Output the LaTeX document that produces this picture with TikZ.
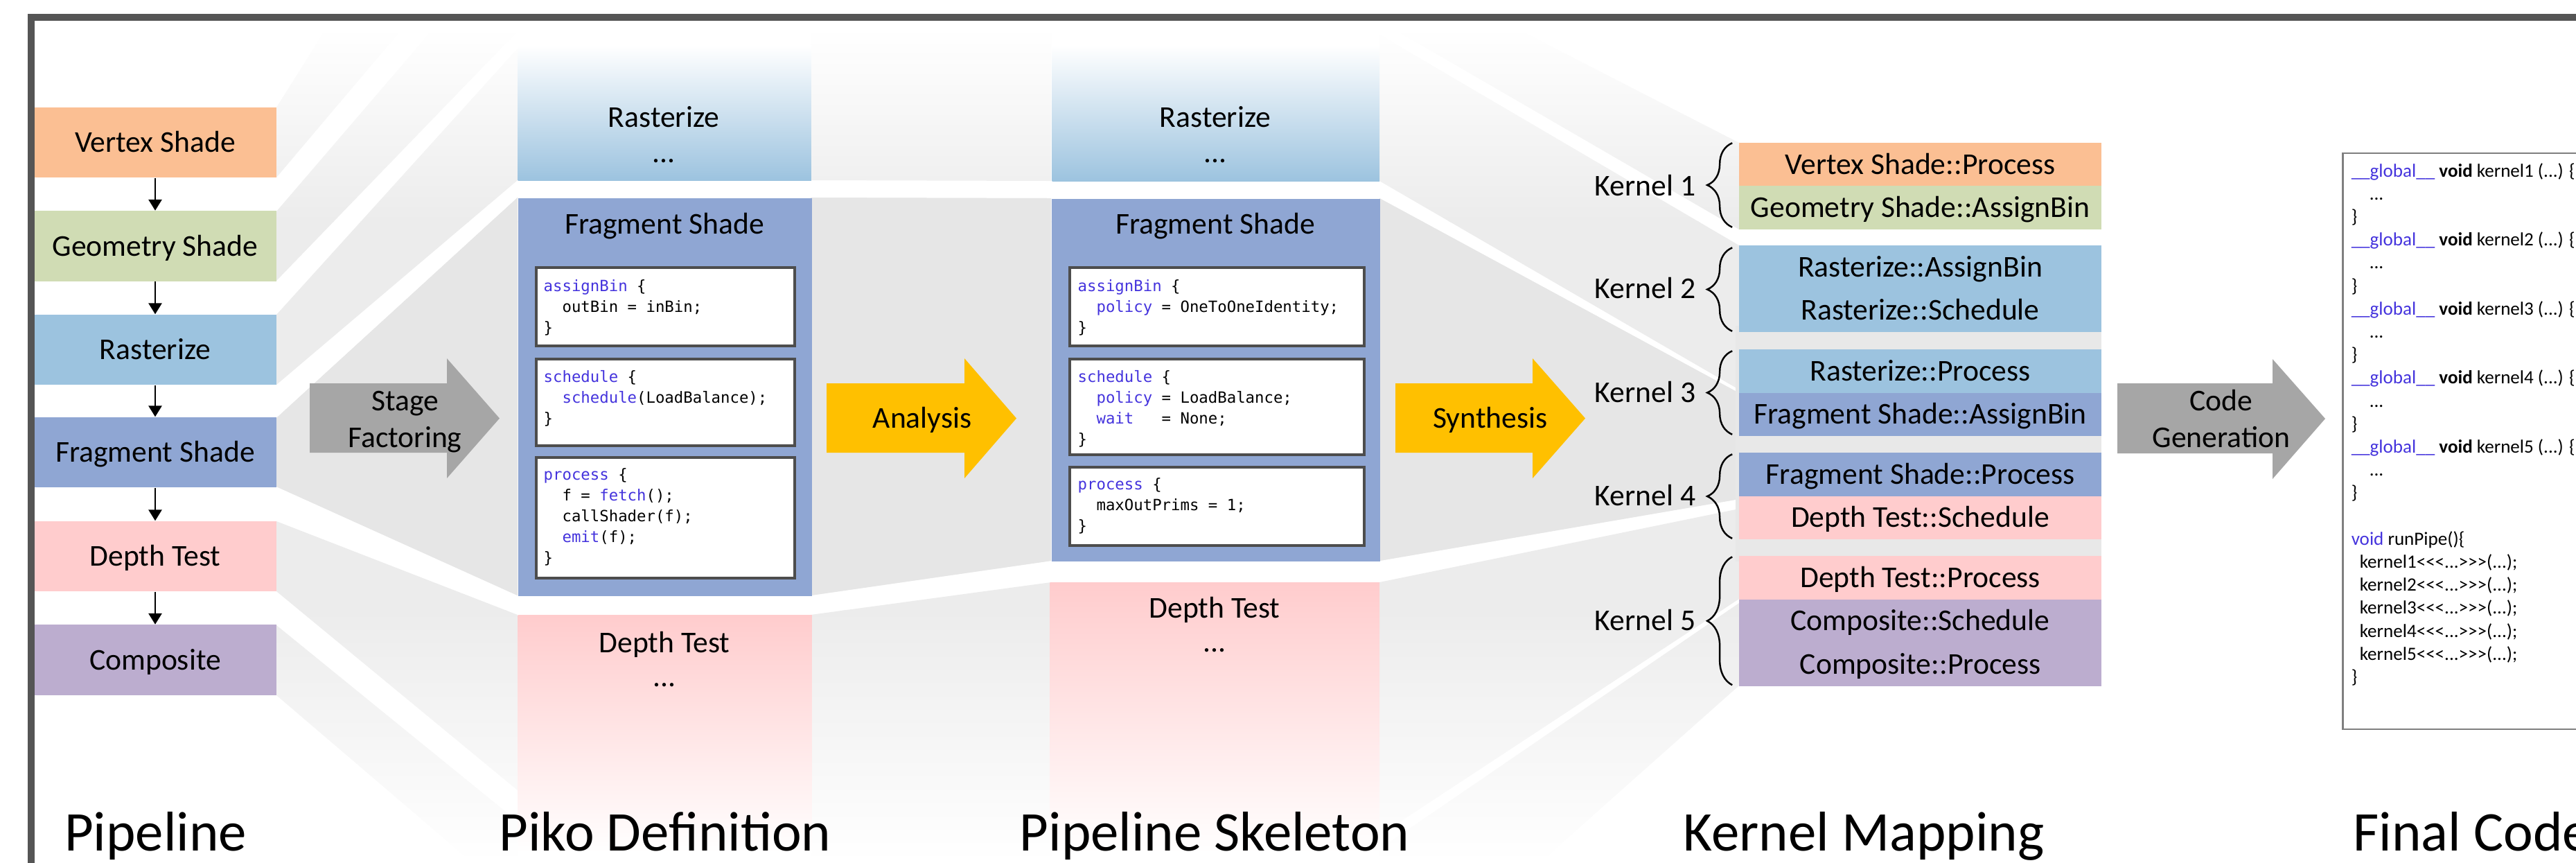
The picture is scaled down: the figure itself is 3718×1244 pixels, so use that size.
\documentclass[tikz,border=0pt]{standalone}
\usepackage{fontspec}
\setmainfont{Carlito}
\newfontfamily\codefont{DejaVu Sans Mono}
\usetikzlibrary{arrows.meta,decorations.pathreplacing}

\definecolor{vtxc}{HTML}{FBBF93}
\definecolor{geoc}{HTML}{D0DCB4}
\definecolor{rasc}{HTML}{9CC3DF}
\definecolor{frgc}{HTML}{8FA6D3}
\definecolor{dptc}{HTML}{FFCCCD}
\definecolor{cmpc}{HTML}{BCADCF}
\definecolor{arrgray}{HTML}{A6A6A6}
\definecolor{arrgold}{HTML}{FFC000}
\definecolor{kwc}{HTML}{4433DD}
\definecolor{framec}{HTML}{555555}
\definecolor{codeframe}{HTML}{4D4D4D}
\definecolor{fcframe}{HTML}{7F7F7F}
\definecolor{bandc}{HTML}{ECECEC}
\definecolor{bandd}{HTML}{E6E6E6}
\definecolor{kgap}{HTML}{E8E8E8}

\newcommand\pkw[1]{\textcolor{kwc}{#1}}
\newcommand\launch{<{}<{}<...>{}>{}>}

\begin{document}
\begin{tikzpicture}[x=0.01cm, y=-0.01cm,
  lbl/.style={font=\fontsize{12.4}{15}\selectfont, inner sep=0pt, text height=11pt, text depth=3pt},
  stagebox/.style={lbl, minimum width=3.5cm, minimum height=1.01cm},
  kbox/.style={lbl, minimum width=5.23cm, minimum height=0.625cm},
  panel/.style={inner sep=0pt, anchor=north west},
  codebox/.style={draw=codeframe, line width=1pt, fill=white, inner sep=0pt, anchor=north west},
  code/.style={font=\codefont\fontsize{6.35}{8.5}\selectfont, inner sep=0pt, anchor=base west},
  fcode/.style={font=\fontsize{7.7}{9.45}\selectfont, inner sep=0pt, anchor=base west},
  ttl/.style={font=\fontsize{23}{28}\selectfont, inner sep=0pt, anchor=base},
  flow/.style={line width=0.65pt, -{Triangle[length=4.5pt,width=5.4pt]}},
  kbrace/.style={decorate, decoration={brace, amplitude=0.36cm}, line width=0.7pt},
]
\useasboundingbox (0,0) rectangle (3718,1244);
\clip (0,0) rectangle (3718,1244);
\fill[white] (0,0) rectangle (3718,1244);

% ---------- background flow bands ----------
\begin{scope}
  \clip
    % pipeline -> piko definition
    (399,155) -- (399,256) -- (700,-100) -- (560,-100) -- cycle
    (399,305) -- (399,405) -- (747,45) -- (747,-100) -- cycle
    (399,454) -- (399,555) -- (747,260) -- (747,70) -- cycle
    (399,603) -- (399,702) -- (747,859) -- (747,285) -- cycle
    (399,752) -- (399,853) -- (747,1140) -- (747,887) -- cycle
    (399,902) -- (399,1003) -- (747,1300) -- (747,1185) -- cycle
    % piko definition -> pipeline skeleton
    (1170,-100) -- (1170,260) -- (1517,261) -- (1517,-100) -- cycle
    (1170,285) -- (1170,859) -- (1517,809) -- (1517,286) -- cycle
    (1170,887) -- (1170,1300) -- (1517,1300) -- (1517,840) -- cycle
    % pipeline skeleton -> kernel mapping
    (1991,-60) -- (1991,30) -- (2510,331) -- (2510,206) -- cycle
    (1991,50) -- (1991,261) -- (2510,562) -- (2510,354) -- cycle
    (1991,286) -- (1991,809) -- (2510,720) -- (2510,567) -- cycle
    (1991,840) -- (1991,1205) -- (2510,864) -- (2510,734) -- cycle
    (1991,1225) -- (1991,1450) -- (2510,989) -- (2510,870) -- cycle;
  \shade[top color=white, bottom color=bandc] (380,40) rectangle (2520,320);
  \fill[bandc] (380,319) rectangle (2520,881);
  \shade[top color=bandc, bottom color=white] (380,880) rectangle (2520,1244);
\end{scope}
\fill[bandd] (399,603) -- (399,702) -- (747,859) -- (747,285) -- cycle;
\fill[bandd] (1170,285) -- (1170,859) -- (1517,809) -- (1517,286) -- cycle;
\fill[bandd] (1991,286) -- (1991,809) -- (2510,720) -- (2510,567) -- cycle;
\fill[kgap] (2505,470) rectangle (3033,810);

% ---------- pipeline ----------
\node[stagebox, fill=vtxc] (pv) at (224,205.5) {Vertex Shade};
\node[stagebox, fill=geoc] (pg) at (224,355) {Geometry Shade};
\node[stagebox, fill=rasc] (pr) at (224,504.5) {Rasterize};
\node[stagebox, fill=frgc] (pf) at (224,652.5) {Fragment Shade};
\node[stagebox, fill=dptc] (pd) at (224,802.5) {Depth Test};
\node[stagebox, fill=cmpc] (pc) at (224,952) {Composite};
\draw[flow] (pv) -- (pg);
\draw[flow] (pg) -- (pr);
\draw[flow] (pr) -- (pf);
\draw[flow] (pf) -- (pd);
\draw[flow] (pd) -- (pc);

% ---------- step arrows ----------
\fill[arrgray] (447,553) -- (645,553) -- (645,517) -- (721,603.5) -- (645,690) -- (645,653) -- (447,653) -- cycle;
\node[lbl] (sf1) at (584.5,578) {Stage};
\node[lbl] (sf2) at (584.5,631) {Factoring};
\fill[arrgold] (1193,553) -- (1392,553) -- (1392,517) -- (1467,603.5) -- (1392,690) -- (1392,653) -- (1193,653) -- cycle;
\node[lbl] (an) at (1331,603) {Analysis};
\fill[arrgold] (2014,553) -- (2212,553) -- (2212,517) -- (2288,603.5) -- (2212,690) -- (2212,653) -- (2014,653) -- cycle;
\node[lbl] (sy) at (2151,603) {Synthesis};
\fill[arrgray] (3056,553) -- (3280,553) -- (3280,518) -- (3356,604) -- (3280,691) -- (3280,654) -- (3056,654) -- cycle;
\node[lbl] (cg1) at (3206,578) {Code};
\node[lbl] (cg2) at (3206,631) {Generation};

% ---------- piko definition ----------
\node[panel, top color=white, bottom color=rasc, minimum width=4.23cm, minimum height=1.95cm] (pkr) at (747,65) {};
\node[lbl] (pkrt) at (958,169) {Rasterize};
\node[lbl] (pkrd) at (958,220) {...};
\node[panel, fill=frgc, minimum width=4.24cm, minimum height=5.74cm] (pkf) at (747,285) {};
\node[lbl] (pkft) at (959,323) {Fragment Shade};
\node[panel, top color=dptc, bottom color=white, minimum width=4.24cm, minimum height=3.43cm] (pkd) at (747,887) {};
\node[lbl] (pkdt) at (959,927) {Depth Test};
\node[lbl] (pkdd) at (959,976) {...};

\node[codebox, minimum width=3.73cm, minimum height=1.13cm] (pa) at (772,384) {};
\node[codebox, minimum width=3.73cm, minimum height=1.25cm] (pb) at (772,516) {};
\node[codebox, minimum width=3.73cm, minimum height=1.74cm] (pp) at (772,658) {};
\foreach \ln [count=\i] in {{\pkw{assignBin} \{},{\phantom{xx}outBin = inBin;},{\}}}
  \node[code] (pa\i) at (784,{420+30*(\i-1)}) {\ln};
\foreach \ln [count=\i] in {{\pkw{schedule} \{},{\phantom{xx}\pkw{schedule}(LoadBalance);},{\}}}
  \node[code] (pb\i) at (784,{551+30*(\i-1)}) {\ln};
\foreach \ln [count=\i] in {{\pkw{process} \{},{\phantom{xx}f = \pkw{fetch}();},{\phantom{xx}callShader(f);},{\phantom{xx}\pkw{emit}(f);},{\}}}
  \node[code] (pp\i) at (784,{692+30*(\i-1)}) {\ln};

% ---------- pipeline skeleton ----------
\node[panel, top color=white, bottom color=rasc, minimum width=4.72cm, minimum height=1.96cm] (skr) at (1518,65) {};
\node[lbl] (skrt) at (1754,169) {Rasterize};
\node[lbl] (skrd) at (1754,220) {...};
\node[panel, fill=frgc, minimum width=4.74cm, minimum height=5.23cm] (skf) at (1517,286) {};
\node[lbl] (skft) at (1754,323) {Fragment Shade};
\node[panel, top color=dptc, bottom color=white, minimum width=4.75cm, minimum height=3.9cm] (skd) at (1515,840) {};
\node[lbl] (skdt) at (1753,877) {Depth Test};
\node[lbl] (skdd) at (1753,926) {...};

\node[codebox, minimum width=4.25cm, minimum height=1.13cm] (sa) at (1542,384) {};
\node[codebox, minimum width=4.25cm, minimum height=1.38cm] (sb) at (1542,516) {};
\node[codebox, minimum width=4.25cm, minimum height=1.13cm] (sp) at (1542,672) {};
\foreach \ln [count=\i] in {{\pkw{assignBin} \{},{\phantom{xx}\pkw{policy} = OneToOneIdentity;},{\}}}
  \node[code] (sa\i) at (1555,{420+30*(\i-1)}) {\ln};
\foreach \ln [count=\i] in {{\pkw{schedule} \{},{\phantom{xx}\pkw{policy} = LoadBalance;},{\phantom{xx}\pkw{wait}\phantom{xxx}= None;},{\}}}
  \node[code] (sb\i) at (1555,{551+30*(\i-1)}) {\ln};
\foreach \ln [count=\i] in {{\pkw{process} \{},{\phantom{xx}maxOutPrims = 1;},{\}}}
  \node[code] (sp\i) at (1555,{706+30*(\i-1)}) {\ln};

% ---------- kernel mapping ----------
\node[kbox, fill=vtxc] (k1a) at (2771.5,237.25) {Vertex Shade::Process};
\node[kbox, fill=geoc] (k1b) at (2771.5,299.75) {Geometry Shade::AssignBin};
\node[kbox, fill=rasc] (k2a) at (2771.5,385.25) {Rasterize::AssignBin};
\node[kbox, fill=rasc] (k2b) at (2771.5,447.75) {Rasterize::Schedule};
\node[kbox, fill=rasc] (k3a) at (2771.5,535.25) {Rasterize::Process};
\node[kbox, fill=frgc] (k3b) at (2771.5,597.75) {Fragment Shade::AssignBin};
\node[kbox, fill=frgc] (k4a) at (2771.5,684.25) {Fragment Shade::Process};
\node[kbox, fill=dptc] (k4b) at (2771.5,746.75) {Depth Test::Schedule};
\node[kbox, fill=dptc] (k5a) at (2771.5,833.25) {Depth Test::Process};
\node[kbox, fill=cmpc] (k5b) at (2771.5,895.75) {Composite::Schedule};
\node[kbox, fill=cmpc] (k5c) at (2771.5,958.25) {Composite::Process};

\node[lbl, anchor=east] (kl1) at (2448,268.5) {Kernel 1};
\node[lbl, anchor=east] (kl2) at (2448,416.5) {Kernel 2};
\node[lbl, anchor=east] (kl3) at (2448,566.5) {Kernel 3};
\node[lbl, anchor=east] (kl4) at (2448,715.5) {Kernel 4};
\node[lbl, anchor=east] (kl5) at (2448,895.75) {Kernel 5};
\draw[kbrace] ([xshift=-0.09cm,yshift=0.04cm]k1b.south west) -- ([xshift=-0.09cm,yshift=-0.01cm]k1a.north west);
\draw[kbrace] ([xshift=-0.09cm,yshift=0.02cm]k2b.south west) -- ([xshift=-0.09cm,yshift=-0.04cm]k2a.north west);
\draw[kbrace] ([xshift=-0.09cm,yshift=0.03cm]k3b.south west) -- ([xshift=-0.09cm,yshift=-0.03cm]k3a.north west);
\draw[kbrace] ([xshift=-0.09cm,yshift=0.02cm]k4b.south west) -- ([xshift=-0.09cm,yshift=-0.03cm]k4a.north west);
\draw[kbrace] ([xshift=-0.09cm,yshift=0.02cm]k5c.south west) -- ([xshift=-0.09cm,yshift=-0.02cm]k5a.north west);

% ---------- final code ----------
\node[panel, draw=fcframe, line width=0.7pt, fill=white, minimum width=5cm, minimum height=8.3cm] (fcb) at (3380,220) {};
\foreach \kn in {1,...,5} {
  \node[fcode] (fg\kn) at (3393,{255+99.6*(\kn-1)}) {\textcolor{kwc}{\_\_global\_\_} \textbf{void} kernel\kn{} (...) \{};
  \node[fcode] (fd\kn) at (3419,{288.2+99.6*(\kn-1)}) {...};
  \node[fcode] (fe\kn) at (3393,{321.4+99.6*(\kn-1)}) {\}};
}
\node[fcode] (frp) at (3393,786.2) {\textcolor{kwc}{void} runPipe()\{};
\foreach \kn in {1,...,5}
  \node[fcode] (fl\kn) at (3405,{786.2+33.2*\kn}) {kernel\kn{}\launch(...);};
\node[fcode] (fend) at (3393,985.4) {\}};

% ---------- titles ----------
\node[ttl] (t1) at (224.5,1227) {Pipeline};
\node[ttl] (t2) at (960,1227) {Piko Definition};
\node[ttl] (t3) at (1753,1227) {Pipeline Skeleton};
\node[ttl] (t4) at (2690,1227) {Kernel Mapping};
\node[ttl, anchor=base west] (t5) at (3396,1227) {Final Code};

% ---------- frame ----------
\draw[framec, line width=2.85pt] (3760,25) -- (45,25) -- (45,1290);
\end{tikzpicture}
\end{document}
